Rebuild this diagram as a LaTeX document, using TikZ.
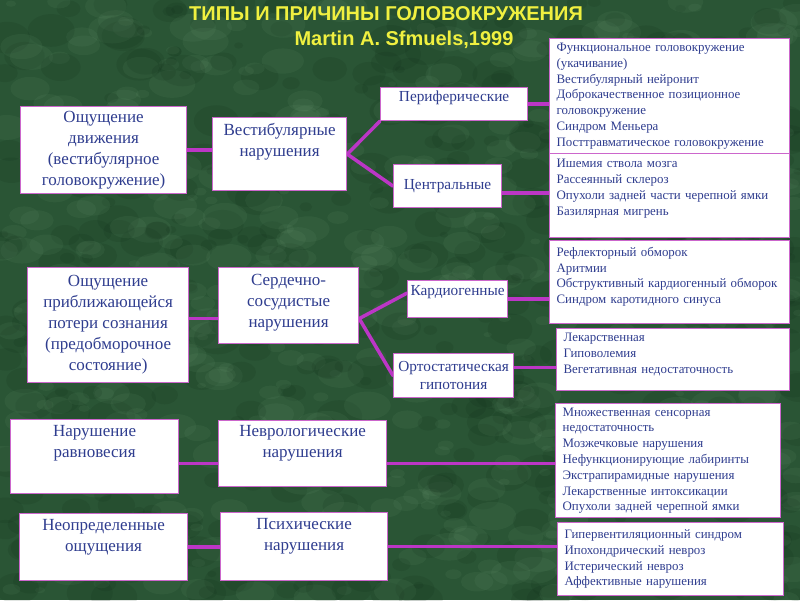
\documentclass[tikz,border=0pt]{standalone}
\usepackage{fontspec}
\setmainfont{Liberation Serif}
\newfontfamily\titlefont{Liberation Sans}
\usetikzlibrary{backgrounds}
\definecolor{gkvert}{HTML}{2A5535}
\definecolor{gkvertclair}{HTML}{72A078}
\definecolor{gkvertsombre}{HTML}{0C2614}
\definecolor{gktexte}{HTML}{2F3D8F}
\definecolor{gkbord}{HTML}{CC66CC}
\definecolor{gklien}{HTML}{BC36C6}
\definecolor{gkjaune}{HTML}{F0F040}

\begin{document}
\begin{tikzpicture}[x=1pt,y=-1pt,
  box/.style={rectangle,draw=gkbord,line width=1.2pt,fill=white,text=gktexte,
    anchor=north west,inner xsep=2pt,inner ysep=2pt,align=center,
    font=\fontsize{17}{21}\selectfont},
  sub/.style={box,font=\fontsize{15.3}{18}\selectfont},
  list/.style={box,align=left,inner xsep=7pt,font=\fontsize{12.9}{15.8}\selectfont},
  wh/.style 2 args={minimum width=#1pt,minimum height=#2pt},
  link/.style={gklien,line width=3.5pt,line cap=round},
  head/.style={text=gkjaune,font=\titlefont\bfseries\fontsize{20}{24}\selectfont}]
  \useasboundingbox (0,0) rectangle (800,600);
  \node[head] (titre) at (386,14) {ТИПЫ И ПРИЧИНЫ ГОЛОВОКРУЖЕНИЯ};
  \node[head] (auteur) at (404,40) {Martin A. Sfmuels,1999};
  % types
  \node[box,wh={166}{87}] (a1) at (20,106) {Ощущение\\движения\\(вестибулярное\\головокружение)};
  \node[box,wh={161}{115}] (a2) at (27,267) {Ощущение\\приближающейся\\потери сознания\\(предобморочное\\состояние)};
  \node[box,wh={168}{74},text depth=30pt] (a3) at (10,419) {Нарушение\\равновесия};
  \node[box,wh={168}{67},text depth=24pt] (a4) at (19,513) {Неопределенные\\ощущения};
  % causes
  \node[box,wh={134}{73},text depth=28pt] (b1) at (212,117) {Вестибулярные\\нарушения};
  \node[box,wh={140}{76},text depth=10pt] (b2) at (218,267) {Сердечно-\\сосудистые\\нарушения};
  \node[box,wh={168}{66},text depth=24pt] (b3) at (218,420) {Неврологические\\нарушения};
  \node[box,wh={167}{68},text depth=24pt] (b4) at (220,512) {Психические\\нарушения};
  \node[sub,wh={147}{33},text depth=15pt] (c1) at (380,87) {Периферические};
  \node[sub,wh={108}{43}] (c2) at (393,164) {Центральные};
  \node[sub,wh={100}{37},text depth=17pt] (c3) at (407,280) {Кардиогенные};
  \node[sub,wh={120}{44}] (c4) at (393,353) {Ортостатическая\\гипотония};
  % lists
  \node[list,text width=226pt,minimum height=115pt] (d1) at (549,38) {Функциональное головокружение\\(укачивание)\\Вестибулярный нейронит\\Доброкачественное позиционное\\головокружение\\Синдром Меньера\\Посттравматическое головокружение};
  \node[list,text width=226pt,minimum height=84pt,text depth=64pt] (d2) at (549,153) {Ишемия ствола мозга\\Рассеянный склероз\\Опухоли задней части черепной ямки\\Базилярная мигрень};
  \node[list,text width=226pt,minimum height=83pt,text depth=61pt] (d3) at (549,240) {Рефлекторный обморок\\Аритмии\\Обструктивный  кардиогенный обморок\\Синдром каротидного синуса};
  \node[list,text width=219pt,minimum height=62pt,text depth=44pt] (d4) at (556,328) {Лекарственная\\Гиповолемия\\Вегетативная недостаточность};
  \node[list,text width=211pt,minimum height=114pt] (d5) at (555,403) {Множественная сенсорная\\недостаточность\\Мозжечковые нарушения\\Нефункционирующие лабиринты\\Экстрапирамидные нарушения\\Лекарственные интоксикации\\Опухоли задней черепной ямки};
  \node[list,text width=212pt,minimum height=73pt] (d6) at (557,522) {Гипервентиляционный синдром\\Ипохондрический невроз\\Истерический невроз\\Аффективные нарушения};
  \coordinate (j2) at ([yshift=-13pt]b2.east);
  \coordinate (j3) at ([yshift=-10pt]b3.east);
  \begin{scope}[on background layer]
    % textured green ground
    \fill[gkvert] (0,0) rectangle (800,600);
    \clip (0,0) rectangle (800,600);
    \pgfmathsetseed{42}
    \foreach \i in {1,...,520}{
      \pgfmathsetmacro\px{800*rnd}
      \pgfmathsetmacro\py{600*rnd}
      \pgfmathsetmacro\pr{4+20*rnd}
      \fill[gkvertclair,opacity=0.1] (\px,\py) ellipse [x radius=\pr pt,y radius=0.6*\pr pt];
      \pgfmathsetmacro\px{800*rnd}
      \pgfmathsetmacro\py{600*rnd}
      \fill[gkvertsombre,opacity=0.12] (\px,\py) ellipse [x radius=\pr pt,y radius=0.7*\pr pt];
    }
    % connectors
    \draw[link] (a1.east) -- (a1.east -| b1.west);
    \draw[link] (b1.east) -- (c1.south west);
    \draw[link] (b1.east) -- (c2.west);
    \draw[link] (c1.east) -- (c1.east -| d1.west);
    \draw[link] ([yshift=-7pt]c2.east) -- ([yshift=-7pt]c2.east -| d2.west);
    \draw[link] (j2 -| a2.east) -- (j2);
    \draw[link] (j2) -- ([yshift=6pt]c3.west);
    \draw[link] (j2) -- (c4.west);
    \draw[link] (c3.east) -- (c3.east -| d3.west);
    \draw[link] ([yshift=8pt]c4.east) -- ([yshift=8pt]c4.east -| d4.west);
    \draw[link] (j3 -| a3.east) -- (j3 -| b3.west);
    \draw[link] (j3) -- (j3 -| d5.west);
    \draw[link] (a4.east) -- (a4.east -| b4.west);
    \draw[link] (b4.east) -- (b4.east -| d6.west);
  \end{scope}
\end{tikzpicture}
\end{document}
